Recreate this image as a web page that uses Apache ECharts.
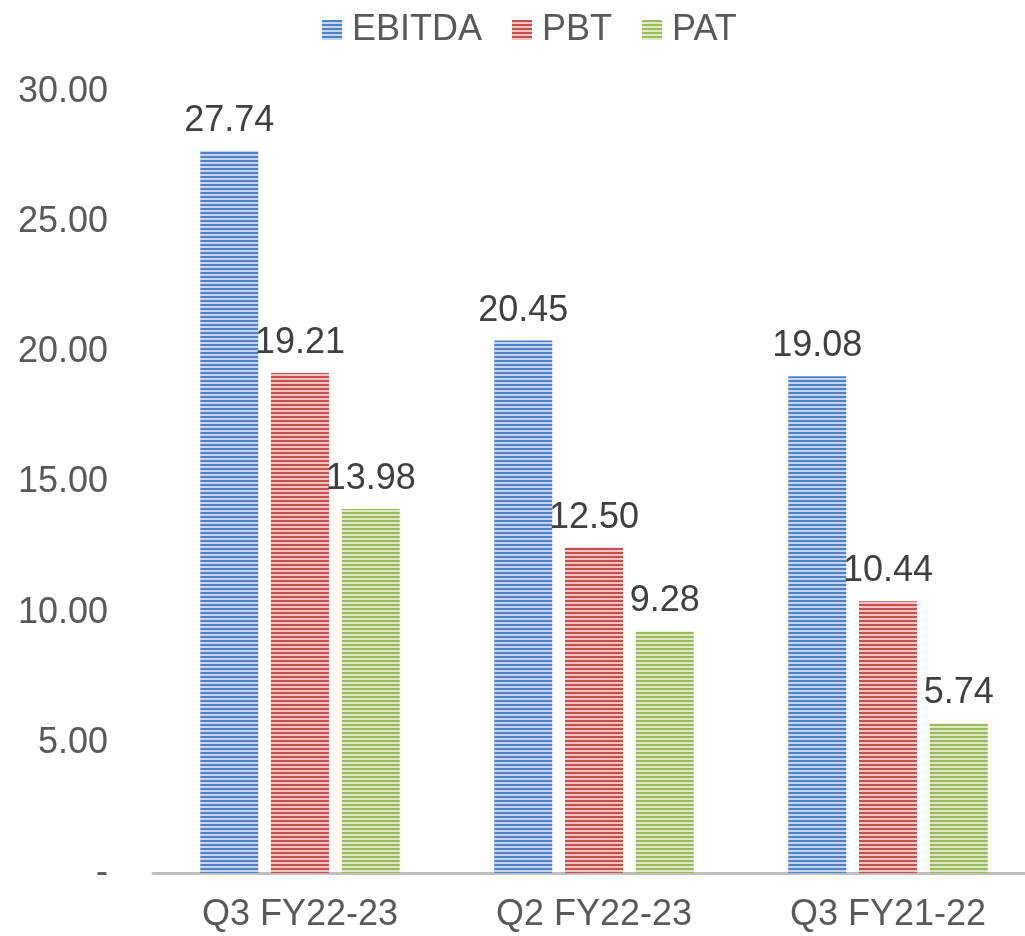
<!DOCTYPE html>
<html>
<head>
<meta charset="utf-8">
<script src="https://cdn.jsdelivr.net/npm/echarts@6/dist/echarts.min.js"></script>
<style>
  html, body { margin: 0; padding: 0; background: #fff; }
  #myChart { width: 1025px; height: 936px; }
</style>
</head>
<body>
<div id="myChart"></div>
<script>
var quarters = ['Q3 FY22-23', 'Q2 FY22-23', 'Q3 FY21-22'];
var ebitdaData = [27.74, 20.45, 19.08];
var pbtData = [19.21, 12.50, 10.44];
var patData = [13.98, 9.28, 5.74];
var seriesNames = ['EBITDA', 'PBT', 'PAT'];

// striped fill like the original chart
function stripes(dark, light) {
  var c = document.createElement('canvas');
  c.width = 4;
  c.height = 4;
  var ctx = c.getContext('2d');
  ctx.fillStyle = light;
  ctx.fillRect(0, 0, 4, 4);
  ctx.fillStyle = dark;
  ctx.fillRect(0, 0, 4, 2);
  return { image: c, repeat: 'repeat' };
}

var chart = echarts.init(document.getElementById('myChart'));
var fontFam = 'Liberation Sans, Arial, sans-serif';

function barSeries(name, data, dark, light) {
  return {
    name: name,
    type: 'bar',
    data: data,
    barWidth: 58,
    barGap: '22%',
    itemStyle: { color: stripes(dark, light) },
    label: {
      show: true,
      position: 'top',
      distance: 12,
      fontSize: 36,
      fontFamily: fontFam,
      color: '#404040',
      formatter: function (p) { return p.value.toFixed(2); }
    },
    animation: false
  };
}

chart.setOption({
  animation: false,
  legend: {
    data: seriesNames,
    icon: 'rect',
    top: 7,
    left: 317,
    itemWidth: 20,
    itemHeight: 20,
    itemGap: 30,
    textStyle: { fontSize: 36, fontFamily: fontFam, color: '#595959', padding: [0, 0, 0, 5] }
  },
  grid: {
    top: 92,
    left: 153,
    width: 882,
    bottom: 63,
    outerBoundsMode: 'none'
  },
  xAxis: {
    type: 'category',
    data: quarters,
    axisTick: { show: false },
    axisLine: { lineStyle: { color: '#BFBFBF', width: 3 } },
    axisLabel: { fontSize: 36, fontFamily: fontFam, color: '#595959', margin: 24 }
  },
  yAxis: {
    type: 'value',
    min: 0,
    max: 30,
    interval: 5,
    splitLine: { show: false },
    axisLine: { show: false },
    axisTick: { show: false },
    axisLabel: {
      fontSize: 36,
      fontFamily: fontFam,
      color: '#595959',
      margin: 45,
      formatter: function (v) { return v === 0 ? '-' : v.toFixed(2); }
    }
  },
  series: [
    barSeries('EBITDA', ebitdaData, '#4F81C7', '#C5D5EE'),
    barSeries('PBT', pbtData, '#C84E4C', '#EEC5C4'),
    barSeries('PAT', patData, '#9BBB59', '#DDE8C6')
  ]
});
</script>
</body>
</html>
